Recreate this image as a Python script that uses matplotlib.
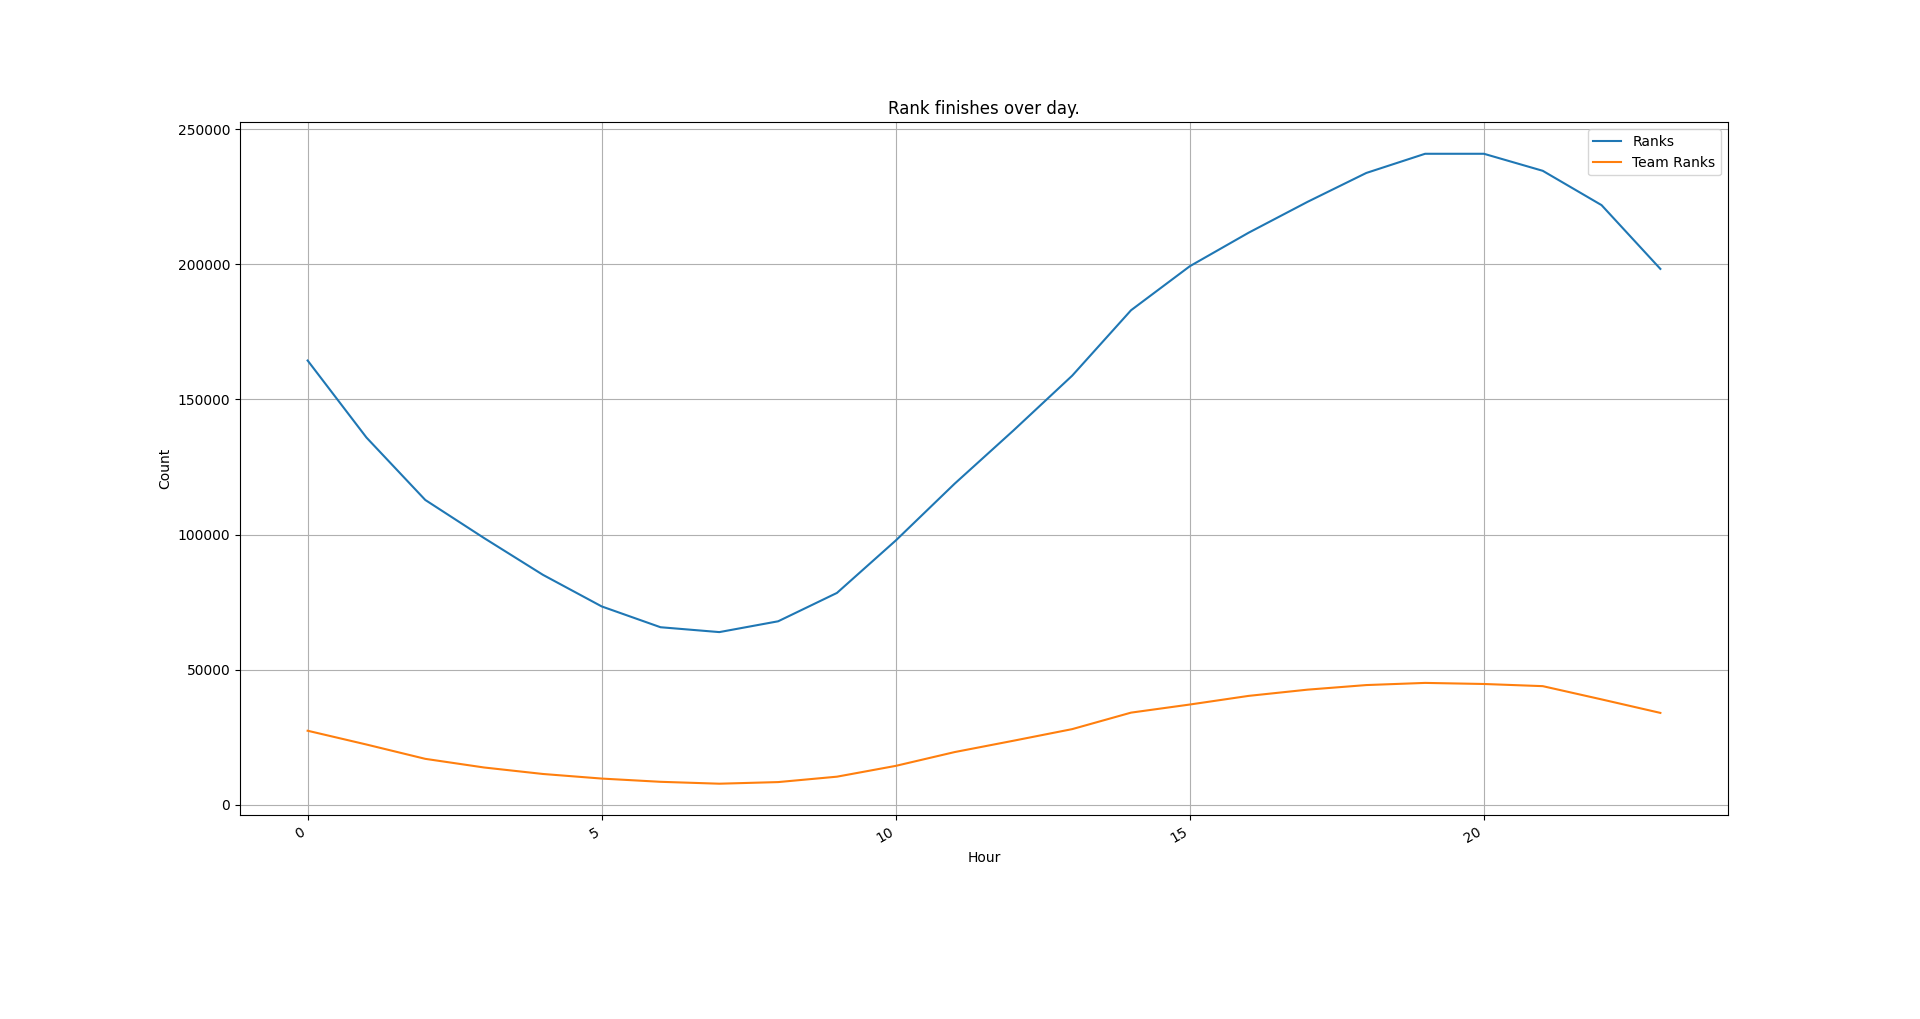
import matplotlib
matplotlib.use("Agg")
import matplotlib.pyplot as plt

hours = list(range(24))
ranks = [164400, 135900, 112800, 98700, 85100, 73400, 65700, 63900, 67900, 78400,
         97800, 118800, 138500, 158800, 183000, 199300, 211700, 223100, 233800, 240900,
         240900, 234600, 221900, 198300]
team_ranks = [27400, 22300, 17000, 13800, 11400, 9700, 8500, 7800, 8400, 10400,
              14400, 19500, 23700, 28000, 34100, 37100, 40300, 42600, 44300, 45100,
              44700, 43900, 39000, 34000]

fig, ax = plt.subplots(figsize=(19.2, 10.19), dpi=100)
ax.plot(hours, ranks, label="Ranks")
ax.plot(hours, team_ranks, label="Team Ranks")
ax.set_title("Rank finishes over day.")
ax.set_xlabel("Hour")
ax.set_ylabel("Count")
ax.grid(True)
ax.legend(loc="upper right")
fig.autofmt_xdate()
fig.savefig("out.png", dpi=100)
